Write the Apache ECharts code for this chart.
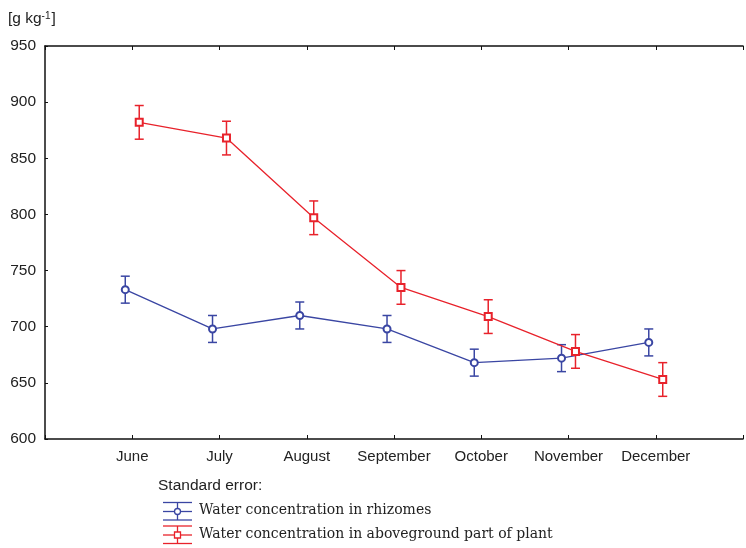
<!DOCTYPE html>
<html>
<head>
<meta charset="utf-8">
<script src="https://cdn.jsdelivr.net/npm/echarts@6/dist/echarts.min.js"></script>
<style>
  html, body { margin: 0; padding: 0; background: #fff; }
  #chart { width: 746px; height: 548px; }
</style>
</head>
<body>
<div id="chart"></div>
<script>
// Months shown on the x axis
const months = ['June', 'July', 'August', 'September', 'October', 'November', 'December'];

// Water concentration in rhizomes [g kg-1] and its standard error
const rhizomes = [733, 698, 710, 698, 668, 672, 686];
const rhizomesSE = [12, 12, 12, 12, 12, 12, 12];

// Water concentration in aboveground part of plant [g kg-1] and its standard error
const aboveground = [882, 868, 797, 735, 709, 678, 653];
const abovegroundSE = [15, 15, 15, 15, 15, 15, 15];

// y axis ticks
const yTicks = { min: 600, max: 950, step: 50 };

const BLUE = '#3a46a3';
const RED = '#e8222b';
const SHIFT = 0.08; // horizontal dodge so the two series don't overlap

function points(vals, dx) {
  return vals.map((v, i) => [i + 1 + dx, v]);
}
function bars(vals, se, dx) {
  return vals.map((v, i) => [i + 1 + dx, v - se[i], v + se[i]]);
}
function errorBars(color) {
  return function (params, api) {
    const lo = api.coord([api.value(0), api.value(1)]);
    const hi = api.coord([api.value(0), api.value(2)]);
    const hw = 4.5;
    const style = { stroke: color, lineWidth: 1.5 };
    return {
      type: 'group',
      children: [
        { type: 'line', shape: { x1: lo[0], y1: lo[1], x2: hi[0], y2: hi[1] }, style },
        { type: 'line', shape: { x1: lo[0] - hw, y1: lo[1], x2: lo[0] + hw, y2: lo[1] }, style },
        { type: 'line', shape: { x1: hi[0] - hw, y1: hi[1], x2: hi[0] + hw, y2: hi[1] }, style }
      ]
    };
  };
}

const sans = 'Liberation Sans, Arial, sans-serif';
const serif = 'DejaVu Serif, serif';

const axisLine = { show: true, lineStyle: { color: '#111', width: 1.5 } };
const xCommon = {
  type: 'value', min: 0, max: 8, interval: 1,
  axisLine,
  axisTick: { show: true, inside: true, length: 4, lineStyle: { color: '#111', width: 1 } },
  splitLine: { show: false }
};

// Legend sample: three horizontal strokes, a vertical stroke and the marker
function legendIcon(x, y, color, marker) {
  const s = { stroke: color, lineWidth: 1.3, fill: null };
  const items = [
    { type: 'line', shape: { x1: x, y1: y - 9, x2: x + 29, y2: y - 9 }, style: s },
    { type: 'line', shape: { x1: x, y1: y, x2: x + 29, y2: y }, style: s },
    { type: 'line', shape: { x1: x, y1: y + 8.5, x2: x + 29, y2: y + 8.5 }, style: s },
    { type: 'line', shape: { x1: x + 14.5, y1: y - 9, x2: x + 14.5, y2: y + 8.5 }, style: s }
  ];
  if (marker === 'circle') {
    items.push({ type: 'circle', shape: { cx: x + 14.5, cy: y, r: 3 }, style: { stroke: color, lineWidth: 1.3, fill: '#fff' } });
  } else {
    items.push({ type: 'rect', shape: { x: x + 11.5, y: y - 3, width: 6, height: 6 }, style: { stroke: color, lineWidth: 1.3, fill: '#fff' } });
  }
  return items;
}

const chart = echarts.init(document.getElementById('chart'), null, { renderer: 'canvas' });
chart.setOption({
  animation: false,
  backgroundColor: '#fff',
  title: {
    text: '{a|[g kg}{s|-1}{a|]}',
    left: 3, top: 6,
    textStyle: {
      fontWeight: 'normal',
      rich: {
        a: { fontFamily: sans, fontSize: 15.5, fontWeight: 'normal', color: '#222' },
        s: { fontFamily: sans, fontSize: 10, fontWeight: 'normal', color: '#222', verticalAlign: 'top', padding: [0, 1, 6, 0] }
      }
    }
  },
  grid: { left: 45, top: 46, width: 707, height: 393, containLabel: false },
  xAxis: [
    Object.assign({}, xCommon, {
      position: 'bottom',
      axisLabel: {
        margin: 10, fontFamily: sans, fontSize: 15, color: '#222',
        formatter: v => (v >= 1 && v <= months.length ? months[v - 1] : '')
      }
    }),
    Object.assign({}, xCommon, { position: 'top', axisLabel: { show: false } })
  ],
  yAxis: {
    type: 'value', min: yTicks.min, max: yTicks.max, interval: yTicks.step,
    axisLine,
    axisTick: { show: true, inside: true, length: 3, lineStyle: { color: '#111', width: 1 } },
    axisLabel: { margin: 9, fontFamily: sans, fontSize: 15.5, color: '#222' },
    splitLine: { show: false }
  },
  series: [
    {
      type: 'custom', name: 'rhizomes SE', renderItem: errorBars(BLUE),
      data: bars(rhizomes, rhizomesSE, -SHIFT), encode: { x: 0, y: [1, 2] }, z: 2
    },
    {
      type: 'line', name: 'Water concentration in rhizomes',
      data: points(rhizomes, -SHIFT),
      symbol: 'emptyCircle', symbolSize: 7,
      lineStyle: { color: BLUE, width: 1.3 },
      itemStyle: { color: BLUE, borderWidth: 1.3 }, z: 3
    },
    {
      type: 'custom', name: 'aboveground SE', renderItem: errorBars(RED),
      data: bars(aboveground, abovegroundSE, SHIFT), encode: { x: 0, y: [1, 2] }, z: 4
    },
    {
      type: 'line', name: 'Water concentration in aboveground part of plant',
      data: points(aboveground, SHIFT),
      symbol: 'emptyRect', symbolSize: 7,
      lineStyle: { color: RED, width: 1.3 },
      itemStyle: { color: RED, borderWidth: 1.3 }, z: 5
    }
  ],
  graphic: [
    { type: 'text', left: 158, top: 478, style: { text: 'Standard error:', font: '15.5px ' + sans, fill: '#222' } },
    ...legendIcon(163, 511.5, BLUE, 'circle'),
    { type: 'text', left: 199, top: 503.5, style: { text: 'Water concentration in rhizomes', font: '14px ' + serif, fill: '#222' } },
    ...legendIcon(163, 535, RED, 'rect'),
    { type: 'text', left: 199, top: 527, style: { text: 'Water concentration in aboveground part of plant', font: '14px ' + serif, fill: '#222' } }
  ]
});
</script>
</body>
</html>
